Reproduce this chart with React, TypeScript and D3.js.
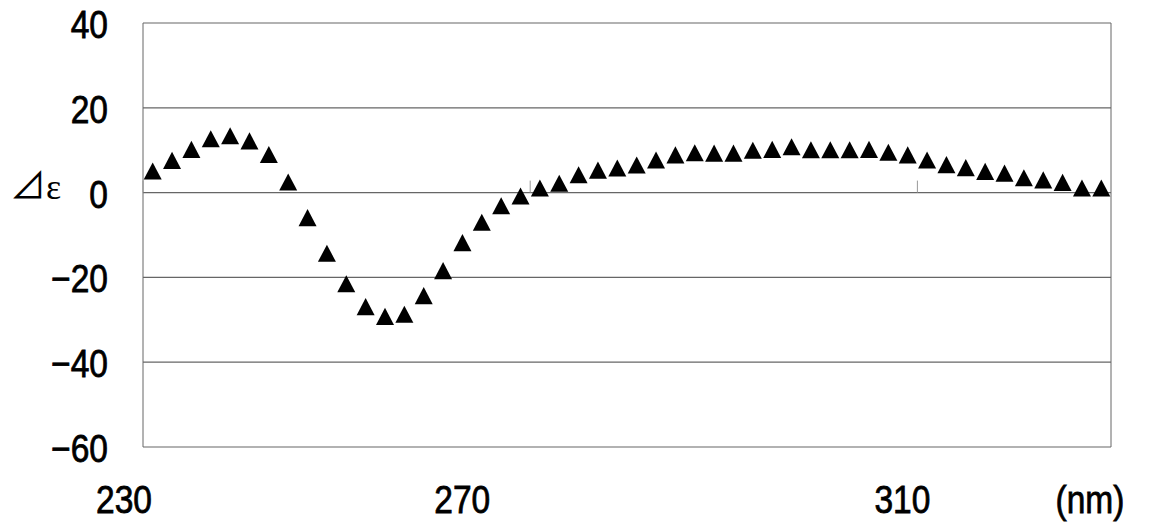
import React from "react";
import * as d3 from "d3";

// wavelength (nm) categories and CD values
const wavelengths = [
  230, 232, 234, 236, 238, 240, 242, 244, 246, 248,
  250, 252, 254, 256, 258, 260, 262, 264, 266, 268,
  270, 272, 274, 276, 278, 280, 282, 284, 286, 288,
  290, 292, 294, 296, 298, 300, 302, 304, 306, 308,
  310, 312, 314, 316, 318, 320, 322, 324, 326, 328,
];
const deltaEps = [
  5.1, 7.6, 10.2, 12.7, 13.4, 12.2, 9.0, 2.5, -5.9, -14.3,
  -21.5, -26.9, -29.2, -28.7, -24.3, -18.4, -11.8, -7.0, -3.1, -0.8,
  1.1, 2.2, 4.2, 5.3, 5.8, 6.5, 7.7, 8.9, 9.4, 9.3,
  9.3, 10.0, 10.2, 10.8, 10.1, 10.1, 10.1, 10.2, 9.5, 8.9,
  7.7, 6.6, 5.9, 5.0, 4.6, 3.5, 3.0, 2.4, 1.1, 1.1,
];
const yTicks = [40, 20, 0, -20, -40, -60];
const xTickLabels = [230, 270, 310];
const xUnit = "(nm)";
const yTitle = "⊿ε";

const width = 1154;
const height = 522;
const margin = { top: 23, right: 43, bottom: 75, left: 143 };

// triangle marker, a bit taller than equilateral like the Excel one
const excelTriangle = {
  draw(ctx: any, size: number) {
    const w = Math.sqrt(size);
    const h = w * 0.95;
    ctx.moveTo(0, -h / 2);
    ctx.lineTo(w / 2, h / 2);
    ctx.lineTo(-w / 2, h / 2);
    ctx.closePath();
  },
};

// narrow-looking label drawn with Liberation Sans squeezed horizontally
const Label = ({ x, y, anchor, children }: any) => (
  <text
    transform={`translate(${x},${y}) scale(0.86,1)`}
    textAnchor={anchor}
    fontFamily="'Liberation Sans', Arial, sans-serif"
    fontSize={39}
    fill="#000"
    stroke="#000"
    strokeWidth={0.8}
  >
    {children}
  </text>
);

const App = () => {
  const innerW = width - margin.left - margin.right;
  const innerH = height - margin.top - margin.bottom;

  const x = d3
    .scaleBand<number>()
    .domain(wavelengths)
    .range([0, innerW])
    .padding(0);

  const y = d3.scaleLinear().domain([-60, 40]).range([innerH, 0]);

  const tri = d3.symbol().type(excelTriangle as any).size(18 * 18);

  const gridColor = "#666";
  // small nudges so the category labels sit where the original puts them
  const labelNudge = [-19, -68, -15];

  return (
    <svg
      width={width}
      height={height}
      style={{ position: "absolute", left: 0, top: 0, background: "#fff" }}
    >
      <g transform={`translate(${margin.left},${margin.top})`}>
        {/* horizontal gridlines + frame */}
        {yTicks.map((t) => (
          <line
            key={t}
            x1={0}
            x2={innerW}
            y1={y(t)}
            y2={y(t)}
            stroke={gridColor}
            strokeWidth={1.2}
          />
        ))}
        <line x1={0} x2={0} y1={0} y2={innerH} stroke={gridColor} strokeWidth={1} />
        <line x1={innerW} x2={innerW} y1={0} y2={innerH} stroke={gridColor} strokeWidth={1} />

        {/* category tick marks on the zero axis */}
        {xTickLabels.map((c) => (
          <line
            key={c}
            x1={x(c)!}
            x2={x(c)!}
            y1={y(0) - 12}
            y2={y(0)}
            stroke="#999"
            strokeWidth={1}
          />
        ))}

        {/* y tick labels */}
        {yTicks.map((t) => (
          <Label key={t} x={-35} y={y(t) + 15} anchor="end">
            {t < 0 ? `−${Math.abs(t)}` : t}
          </Label>
        ))}

        {/* x tick labels */}
        {xTickLabels.map((c, i) => (
          <Label key={c} x={x(c)! + labelNudge[i]} y={innerH + 66} anchor="middle">
            {c}
          </Label>
        ))}
        <Label x={innerW - 21} y={innerH + 66} anchor="middle">
          {xUnit}
        </Label>

        {/* y title */}
        <text x={-133} y={y(0)} dy="0.38em" textAnchor="start" fill="#000">
          <tspan fontFamily="'Noto Sans CJK JP', sans-serif" fontSize={36}>
            {yTitle[0]}
          </tspan>
          <tspan fontFamily="'Liberation Serif', serif" fontSize={36}>
            {yTitle[1]}
          </tspan>
        </text>

        {/* data markers */}
        {wavelengths.map((w, i) => (
          <path
            key={w}
            d={tri()!}
            transform={`translate(${x(w)! + x.bandwidth() / 2},${y(deltaEps[i])})`}
            fill="#000"
          />
        ))}
      </g>
    </svg>
  );
};

export default App;
